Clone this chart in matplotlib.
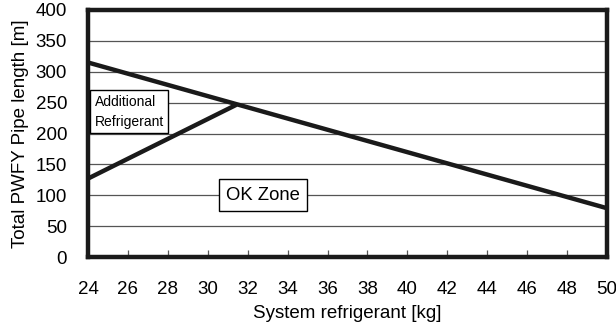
import matplotlib
matplotlib.use("Agg")
import matplotlib.pyplot as plt

plt.rcParams['font.family'] = ['Liberation Sans', 'DejaVu Sans']

limit_x = [24, 50]
limit_y = [315, 79]
add_x = [24, 31.4]
add_y = [127, 246]
x_ticks = [24, 26, 28, 30, 32, 34, 36, 38, 40, 42, 44, 46, 48, 50]
y_ticks = [0, 50, 100, 150, 200, 250, 300, 350, 400]

fig = plt.figure(figsize=(6.16, 3.29), dpi=100)
ax = fig.add_axes([88/616, 1-257/329, 519/616, 247/329])

ax.set_xlim(24, 50)
ax.set_ylim(0, 400)
for y in y_ticks[1:-1]:
    ax.axhline(y, color='#555555', lw=0.9, zorder=1)

ax.plot(limit_x, limit_y, color='#1a1a1a', lw=3.2, solid_capstyle='butt', zorder=3, clip_on=False)
ax.plot(add_x, add_y, color='#1a1a1a', lw=3.2, solid_capstyle='round', zorder=3)

for s in ax.spines.values():
    s.set_linewidth(3.2)
    s.set_color('#1a1a1a')

ax.set_xticks(x_ticks)
ax.set_yticks(y_ticks)
ax.tick_params(axis='x', direction='in', length=5, width=0.9, color='#555555',
               labelsize=13.5, pad=17)
ax.tick_params(axis='y', length=0, labelsize=13.5, pad=15)
ax.set_xlabel('System refrigerant [kg]', fontsize=13.5, labelpad=5)
ax.set_ylabel('Total PWFY Pipe length [m]', fontsize=13.5, labelpad=5)

ax.text(24.33, 235.5, 'Additional\nRefrigerant', fontsize=10, ha='left', va='center',
        linespacing=1.55, zorder=5,
        bbox=dict(boxstyle='square,pad=0.3', fc='white', ec='black', lw=1.0))
ax.text(32.77, 100, 'OK Zone', fontsize=13.3, ha='center', va='center', zorder=5,
        bbox=dict(boxstyle='square,pad=0.4', fc='white', ec='black', lw=1.0))

fig.savefig('out.png', dpi=100)
